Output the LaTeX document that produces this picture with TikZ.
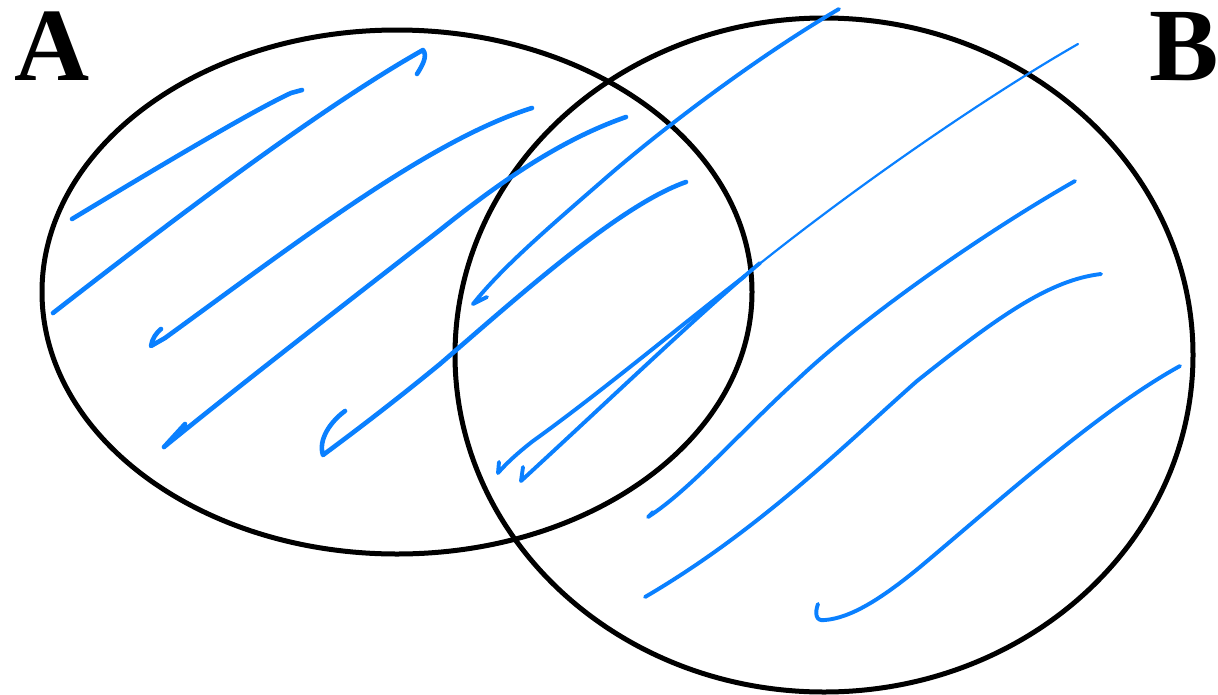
\documentclass[tikz,border=0pt]{standalone}
\usepackage{fontspec}
\setmainfont{Liberation Serif}
\definecolor{hatch}{RGB}{10,128,255}
\begin{document}
\begin{tikzpicture}[x=1pt,y=-1pt,line cap=round,line join=round,
  venn/.style={draw=black,line width=5pt},
  hatchline/.style={draw=hatch,line width=4.6pt},
  hatchmid/.style={draw=hatch,line width=3.9pt},
  hatchthin/.style={draw=hatch,line width=2.2pt},
  setlabel/.style={anchor=base west,inner sep=0pt,font=\fontsize{104}{104}\selectfont\bfseries}]
\useasboundingbox (0,0) rectangle (1218,694);
% sets
\draw[venn] (397,292) ellipse [x radius=355pt,y radius=262pt];
\draw[venn] (824,355) ellipse [x radius=369pt,y radius=337pt];
\node[setlabel] (A) at (14,80) {A};
\node[setlabel] (B) at (1149,80) {B};
% hatch strokes in A
\draw[hatchline] (72,219) .. controls (150,172) and (250,112) .. (291,93) -- (302,90);
\draw[hatchline] (53,313) .. controls (170,222) and (320,108) .. (423,50) .. controls (428,56) and (422,66) .. (417,74);
\draw[hatchline] (532,108) .. controls (430,140) and (300,240) .. (165,338) -- (151,346) .. controls (152,339) and (156,333) .. (161,329);
\draw[hatchline] (626,117) .. controls (560,140) and (500,182) .. (440,230) .. controls (350,300) and (240,385) .. (164,447) -- (185,424);
\draw[hatchmid] (839,9) .. controls (760,55) and (660,130) .. (600,183) .. controls (540,235) and (500,270) .. (473,304) -- (487,297);
\draw[hatchline] (686,182) .. controls (620,205) and (520,295) .. (440,364) .. controls (390,405) and (350,435) .. (323,455) .. controls (318,440) and (330,422) .. (345,411);
% double stroke through the lens
\draw[hatchthin] (1078,44) .. controls (980,100) and (820,210) .. (700,313);
\draw[hatchmid] (760,263) .. controls (700,313) and (620,390) .. (521,481) -- (523,467);
\draw[hatchmid] (745,276) .. controls (690,318) and (600,393) .. (533,441) .. controls (515,455) and (505,465) .. (498,473) -- (499,462);
% strokes in B
\draw[hatchmid] (1075,181) .. controls (980,235) and (860,320) .. (797,380) .. controls (740,432) and (690,490) .. (648,517) -- (653,512);
\draw[hatchmid] (1101,274) .. controls (1050,280) and (1000,315) .. (917,381) .. controls (850,440) and (760,530) .. (645,597);
\draw[hatchmid] (1180,366) .. controls (1100,410) and (1000,500) .. (920,567) .. controls (880,600) and (850,618) .. (825,620) .. controls (815,622) and (815,612) .. (818,604);
\end{tikzpicture}
\end{document}
